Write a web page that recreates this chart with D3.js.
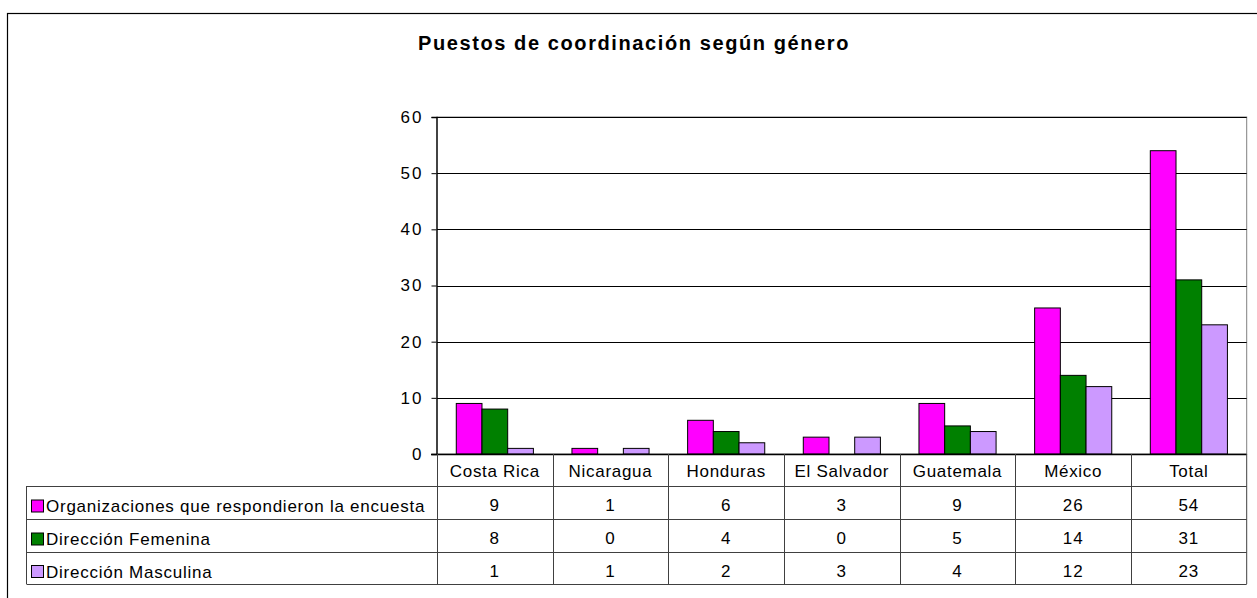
<!DOCTYPE html>
<html>
<head>
<meta charset="utf-8">
<script src="https://cdn.jsdelivr.net/npm/d3@7"></script>
<style>
  body { margin: 0; background: #fff; }
  text { font-family: "Liberation Sans", Arial, sans-serif; fill: #000; }
</style>
</head>
<body>
<svg id="chart" width="1257" height="598"></svg>
<script>
// data
const categories = ['Costa Rica', 'Nicaragua', 'Honduras', 'El Salvador', 'Guatemala', 'México', 'Total'];
const seriesNames = ['Organizaciones que respondieron la encuesta', 'Dirección Femenina', 'Dirección Masculina'];
const seriesColors = ['#ff00ff', '#008000', '#cc99ff'];
const organizaciones = [9, 1, 6, 3, 9, 26, 54];
const femenina = [8, 0, 4, 0, 5, 14, 31];
const masculina = [1, 1, 2, 3, 4, 12, 23];
const yTicks = [0, 10, 20, 30, 40, 50, 60];

const series = [organizaciones, femenina, masculina];

const svg = d3.select('#chart');

// outer frame (runs off the right and bottom edge)
svg.append('rect')
  .attr('x', 7.5).attr('y', 13.5)
  .attr('width', 1300).attr('height', 700)
  .attr('fill', 'none').attr('stroke', '#000').attr('stroke-width', 1.2);

// title
svg.append('text')
  .attr('x', 634).attr('y', 50)
  .attr('text-anchor', 'middle')
  .style('font-size', '20px').style('font-weight', 'bold')
  .style('letter-spacing', '1.6px')
  .text('Puestos de coordinación según género');

const plotLeft = 437, plotRight = 1246.7, plotTop = 117, plotBottom = 454;

const x = d3.scaleBand().domain(categories).range([plotLeft, plotRight]);
// gap width 150% -> 3 bars + 1.5 bar of gap
const barW = x.bandwidth() / 4.5;
const xs = d3.scaleBand().domain(d3.range(series.length)).range([0.75 * barW, x.bandwidth() - 0.75 * barW]);
const y = d3.scaleLinear().domain([0, 60]).range([plotBottom, plotTop]);

// plot area border
svg.append('rect')
  .attr('x', plotLeft).attr('y', plotTop)
  .attr('width', plotRight - plotLeft).attr('height', plotBottom - plotTop)
  .attr('fill', 'none').attr('stroke', '#808080');

// gridlines
svg.append('g').selectAll('line')
  .data(yTicks.filter(d => d > 0))
  .join('line')
  .attr('x1', plotLeft).attr('x2', plotRight)
  .attr('y1', d => Math.round(y(d)) + 0.5).attr('y2', d => Math.round(y(d)) + 0.5)
  .attr('stroke', '#000');

// y axis
const yAxis = svg.append('g')
  .attr('transform', `translate(${plotLeft - 0.5},0)`)
  .call(d3.axisLeft(y).tickValues(yTicks).tickSize(5).tickPadding(8).tickFormat(d3.format('d')));
yAxis.select('.domain').attr('stroke', '#000').attr('stroke-width', 1.3);
yAxis.selectAll('.tick line').attr('stroke', '#000');
yAxis.selectAll('.tick text')
  .attr('font-family', null)
  .style('font-size', '17px').style('letter-spacing', '2px');

// bars
const groups = svg.append('g').selectAll('g')
  .data(series)
  .join('g')
  .attr('fill', (d, i) => seriesColors[i]);

groups.selectAll('rect')
  .data((vals, si) => vals.map((v, ci) => ({ v, ci, si })).filter(d => d.v > 0))
  .join('rect')
  .attr('x', d => x(categories[d.ci]) + xs(d.si))
  .attr('width', xs.bandwidth())
  .attr('y', d => y(d.v))
  .attr('height', d => plotBottom - y(d.v))
  .attr('stroke', '#000').attr('stroke-width', 1);

// data table
const tableLeft = 26.5;
const rowLines = [454, 486, 519, 552, 584];
const t = svg.append('g').attr('stroke', '#404040').attr('stroke-width', 1);

// horizontal lines
t.append('line')
  .attr('x1', plotLeft - 6).attr('x2', plotRight)
  .attr('y1', rowLines[0] + 0.5).attr('y2', rowLines[0] + 0.5)
  .attr('stroke', '#000').attr('stroke-width', 1.5);
rowLines.slice(1).forEach(ry => {
  t.append('line')
    .attr('x1', tableLeft).attr('x2', plotRight)
    .attr('y1', ry + 0.5).attr('y2', ry + 0.5);
});
// vertical lines
t.append('line')
  .attr('x1', tableLeft).attr('x2', tableLeft)
  .attr('y1', rowLines[1]).attr('y2', rowLines[4]);
categories.forEach(c => {
  t.append('line')
    .attr('x1', Math.round(x(c)) + 0.5).attr('x2', Math.round(x(c)) + 0.5)
    .attr('y1', rowLines[0]).attr('y2', rowLines[4]);
});
t.append('line')
  .attr('x1', plotRight).attr('x2', plotRight)
  .attr('y1', rowLines[0]).attr('y2', rowLines[4]);

// category header
svg.append('g').selectAll('text')
  .data(categories)
  .join('text')
  .attr('x', d => x(d) + x.bandwidth() / 2)
  .attr('y', 477)
  .attr('text-anchor', 'middle')
  .style('font-size', '17px').style('letter-spacing', '0.7px')
  .text(d => d);

// legend rows + values
series.forEach((vals, si) => {
  const top = rowLines[si + 1], bot = rowLines[si + 2];
  const mid = (top + bot) / 2;
  svg.append('rect')
    .attr('x', 31.5).attr('y', mid - 2.5)
    .attr('width', 12).attr('height', 12)
    .attr('fill', seriesColors[si]).attr('stroke', '#000');
  svg.append('text')
    .attr('x', 46).attr('y', mid + 9.5)
    .style('font-size', '17px').style('letter-spacing', '0.75px')
    .text(seriesNames[si]);
  svg.append('g').selectAll('text')
    .data(vals)
    .join('text')
    .attr('x', (d, i) => x(categories[i]) + x.bandwidth() / 2)
    .attr('y', mid + 8.5)
    .attr('text-anchor', 'middle')
    .style('font-size', '17px').style('letter-spacing', '1px')
    .text(d => d);
});
</script>
</body>
</html>
